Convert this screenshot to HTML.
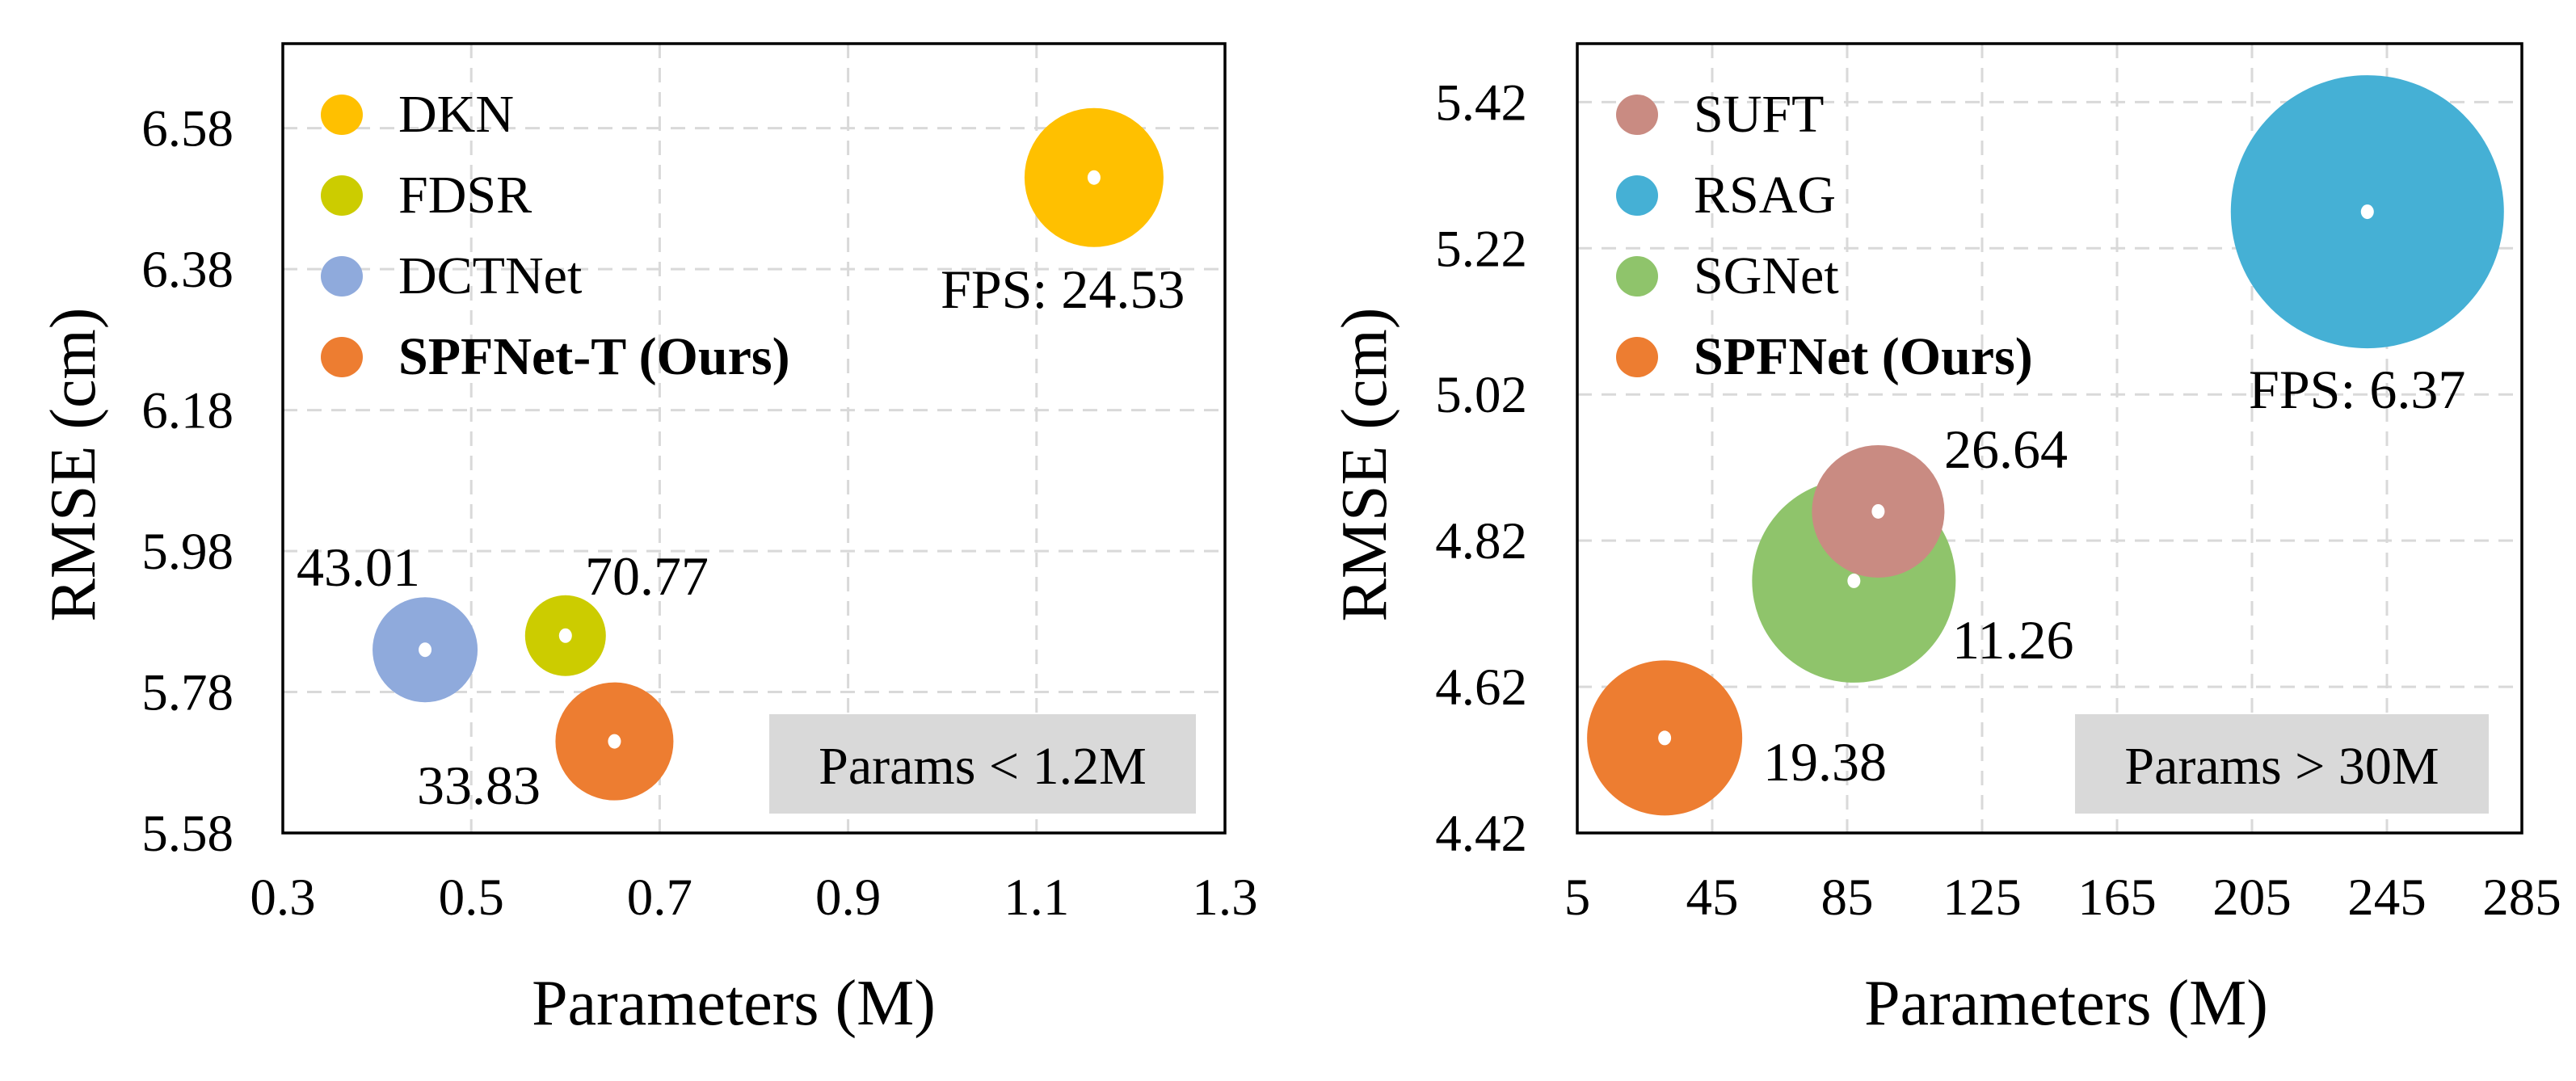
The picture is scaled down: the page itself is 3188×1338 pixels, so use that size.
<!DOCTYPE html>
<html><head><meta charset="utf-8"><style>
html,body{margin:0;padding:0;background:#fff;}
svg{display:block;}
svg text{font-family:"Liberation Serif","Times New Roman",serif;}
</style></head><body>
<svg id="fig" width="3188" height="1338" viewBox="0 0 3188 1338" xmlns="http://www.w3.org/2000/svg" font-family="Liberation Serif, serif"></svg>
<script>
// ---- Left chart data ----
const leftNames = ["DKN", "FDSR", "DCTNet", "SPFNet-T (Ours)"];
const leftParams = [1.161, 0.600, 0.451, 0.652];
const leftRmse = [6.51, 5.86, 5.84, 5.71];
const leftSize = [86, 50, 65, 73];
const leftFps = ["FPS: 24.53", "70.77", "43.01", "33.83"];
const leftXTicks = [0.3, 0.5, 0.7, 0.9, 1.1, 1.3];
const leftYTicks = [5.58, 5.78, 5.98, 6.18, 6.38, 6.58];
// ---- Right chart data ----
const rightNames = ["SUFT", "RSAG", "SGNet", "SPFNet (Ours)"];
const rightParams = [94.2, 239.2, 87.0, 30.9];
const rightRmse = [4.86, 5.27, 4.765, 4.55];
const rightSize = [82, 169, 126, 96];
const rightFps = ["26.64", "FPS: 6.37", "11.26", "19.38"];
const rightXTicks = [5, 45, 85, 125, 165, 205, 245, 285];
const rightYTicks = [4.42, 4.62, 4.82, 5.02, 5.22, 5.42];

const NS = "http://www.w3.org/2000/svg";
const svg = document.getElementById("fig");
const FONT = '"Liberation Serif", "Times New Roman", serif';
function mk(tag, attrs, parent, text) {
  const e = document.createElementNS(NS, tag);
  for (const k in attrs) e.setAttribute(k, attrs[k]);
  if (tag === "text") e.style.fontFamily = FONT;
  if (text !== undefined) e.textContent = text;
  (parent || svg).appendChild(e);
  return e;
}

function drawChart(cfg) {
  const g = mk("g", {});
  
  
  const L = cfg.left, R = cfg.right, T = 54, B = 1031;
  const xs = v => L + (v - cfg.xMin) / (cfg.xMax - cfg.xMin) * (R - L);
  const ys = v => B - (v - cfg.yMin) / (cfg.yMax - cfg.yMin) * (B - T);
  cfg.xTicks.forEach((t, i) => {
    if (i > 0 && i < cfg.xTicks.length - 1) {
      const l = mk("line", {x1: xs(t), x2: xs(t), y1: T, y2: B, stroke: "#d9d9d9", "stroke-width": 3, "stroke-dasharray": "18,12"}, g);
      
      
    }
    const tx = mk("text", {x: xs(t), y: 1132, "font-size": 65, "text-anchor": "middle"}, g, String(t));
    
    
  });
  cfg.yTicks.forEach((t, i) => {
    if (i > 0) {
      const l = mk("line", {x1: L, x2: R, y1: ys(t), y2: ys(t), stroke: "#d9d9d9", "stroke-width": 3, "stroke-dasharray": "18,12"}, g);
      
      
    }
    const tx = mk("text", {x: cfg.tickRight, y: ys(t) + 22, "font-size": 65, "text-anchor": "end"}, g, t.toFixed(2));
    
    
  });
  const pb = mk("rect", {x: cfg.boxX, y: 884, width: cfg.boxW, height: 123, fill: "#d9d9d9"}, g);
  
  
  const pt = mk("text", {x: cfg.boxX + cfg.boxW / 2, y: 970, "font-size": 66, "text-anchor": "middle", "xml:space": "preserve"}, g, cfg.boxText);
  
  
  cfg.order.forEach(i => {
    const c = mk("circle", {cx: xs(cfg.px[i]), cy: ys(cfg.py[i]), r: cfg.size[i], fill: cfg.colors[i]}, g);
    
    
    const d = mk("ellipse", {cx: xs(cfg.px[i]), cy: ys(cfg.py[i]), rx: 8, ry: 9, fill: "#fff"}, g);
    
    
  });
  cfg.names.forEach((n, i) => {
    const t = mk("text", {x: cfg.labX[i], y: cfg.labY[i], "font-size": 68}, g, cfg.fps[i]);
    
    
  });
  const fr = mk("rect", {x: L, y: T, width: R - L, height: B - T, fill: "none", stroke: "#000", "stroke-width": 3.5}, g);
  
  
  cfg.names.forEach((n, i) => {
    const y = 142 + i * 100;
    const c = mk("ellipse", {cx: cfg.legX, cy: y, rx: 26, ry: 25, fill: cfg.colors[i]}, g);
    
    
    const t = mk("text", {x: cfg.legX + 70, y: y + 21, "font-size": 66, "font-weight": i === 3 ? "bold" : "normal"}, g, n);
    
    
  });
  const xt = mk("text", {x: cfg.xTitleX, y: 1268, "font-size": 80, "text-anchor": "middle"}, g, "Parameters (M)");
  
  
  const yt = mk("text", {x: 0, y: 0, "font-size": 80, "text-anchor": "middle", transform: "translate(" + cfg.yTitleX + ",575) rotate(-90)"}, g, "RMSE (cm)");
  
  
}

drawChart({
  id: "small-models", left: 350, right: 1516, xMin: 0.3, xMax: 1.3, yMin: 5.58, yMax: 6.70,
  xTicks: leftXTicks, yTicks: leftYTicks, tickRight: 289, xTitleX: 908, yTitleX: 117,
  names: leftNames, px: leftParams, py: leftRmse, size: leftSize, fps: leftFps,
  colors: ["#FFC000", "#CCCC00", "#8FAADC", "#ED7D31"], order: [0, 2, 1, 3],
  labX: [1164, 724, 367, 516], labY: [381, 736, 725, 995],
  boxX: 952, boxW: 528, boxText: "Params  < 1.2M", legX: 423
});
drawChart({
  id: "large-models", left: 1952, right: 3121, xMin: 5, xMax: 285, yMin: 4.42, yMax: 5.50,
  xTicks: rightXTicks, yTicks: rightYTicks, tickRight: 1890, xTitleX: 2557, yTitleX: 1715,
  names: rightNames, px: rightParams, py: rightRmse, size: rightSize, fps: rightFps,
  colors: ["#C98B82", "#45B0D5", "#8FC46B", "#ED7D31"], order: [1, 2, 0, 3],
  labX: [2406, 2783, 2416, 2182], labY: [579, 505, 815, 966],
  boxX: 2568, boxW: 512, boxText: "Params  > 30M", legX: 2026
});
</script>
</body></html>
